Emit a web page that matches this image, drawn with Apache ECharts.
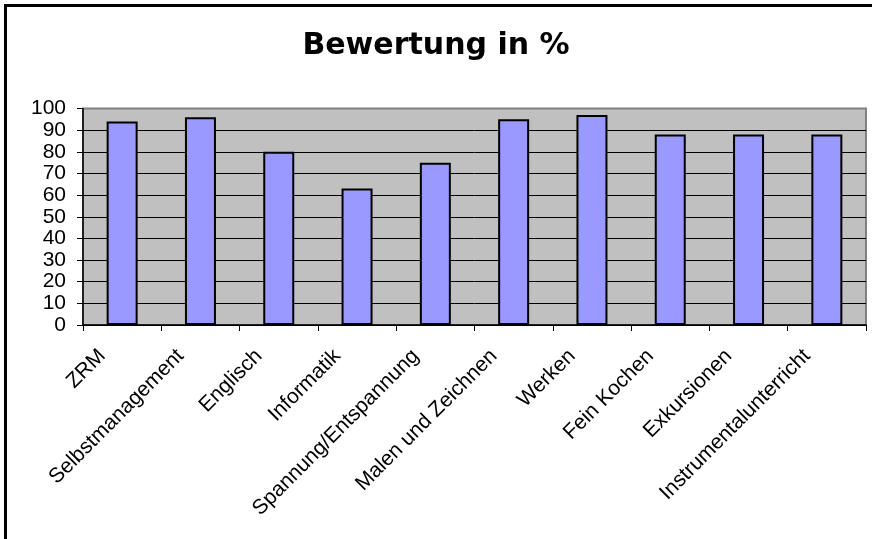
<!DOCTYPE html>
<html>
<head>
<meta charset="utf-8">
<script src="https://cdn.jsdelivr.net/npm/echarts@6/dist/echarts.min.js"></script>
<style>
html,body{margin:0;padding:0;background:#fff;}
#chart{width:872px;height:539px;}
</style>
</head>
<body>
<div id="chart"></div>
<script>
const titleText = 'Bewertung in %';
const categories = ['ZRM', 'Selbstmanagement', 'Englisch', 'Informatik', 'Spannung/Entspannung', 'Malen und Zeichnen', 'Werken', 'Fein Kochen', 'Exkursionen', 'Instrumentalunterricht'];
const values = [94, 96, 80, 63, 75, 95, 97, 88, 88, 88];
const yMin = 0, yMax = 100, yStep = 10;

const chart = echarts.init(document.getElementById('chart'), null, {renderer: 'canvas'});
const splitColors = [];
for (let v = yMin; v <= yMax; v += yStep) splitColors.push(v === yMax ? '#808080' : '#000000');

chart.setOption({
  animation: false,
  backgroundColor: '#ffffff',
  title: {
    text: titleText,
    left: 'center',
    top: 26,
    textStyle: {fontFamily: 'DejaVu Sans', fontWeight: 'bold', fontSize: 30, color: '#000'}
  },
  grid: {
    left: 83, right: 6, top: 108.5, bottom: 214,
    show: true, backgroundColor: '#C0C0C0', borderColor: '#808080', borderWidth: 2
  },
  xAxis: {
    type: 'category',
    data: categories,
    axisLine: {lineStyle: {color: '#000', width: 1.5}},
    axisTick: {show: true, length: 6, lineStyle: {color: '#000'}},
    axisLabel: {
      rotate: 45, interval: 0, margin: 8, padding: [0, 28, 0, 0],
      fontFamily: 'Liberation Sans', fontSize: 21, color: '#000'
    }
  },
  yAxis: {
    type: 'value', min: yMin, max: yMax, interval: yStep,
    axisLine: {show: true, lineStyle: {color: '#000', width: 1.5}},
    axisTick: {show: true, length: 6, lineStyle: {color: '#000'}},
    axisLabel: {margin: 17, fontFamily: 'Liberation Sans', fontSize: 21, color: '#000'},
    splitLine: {show: true, lineStyle: {color: splitColors, width: 1}}
  },
  series: [{
    type: 'bar',
    data: values,
    barWidth: 31,
    itemStyle: {color: '#9999FF', borderColor: '#000', borderWidth: 2}
  }],
  graphic: [
    {type: 'line', shape: {x1: 5.5, y1: 4, x2: 5.5, y2: 539}, style: {stroke: '#000', lineWidth: 3}},
    {type: 'line', shape: {x1: 4, y1: 5.5, x2: 872, y2: 5.5}, style: {stroke: '#000', lineWidth: 3}}
  ]
});
</script>
</body>
</html>
